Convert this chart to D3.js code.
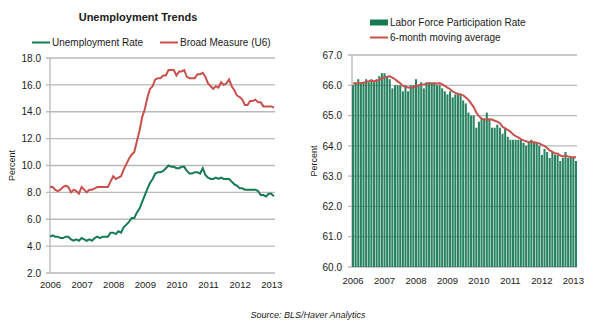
<!DOCTYPE html>
<html>
<head>
<meta charset="utf-8">
<script src="https://cdn.jsdelivr.net/npm/d3@7"></script>
<style>
  body { margin: 0; background: #fff; }
  svg { display: block; font-family: "Liberation Sans", Arial, sans-serif; }
  .tick text { fill: #1a1a1a; }
</style>
</head>
<body>
<div id="chart"></div>
<script>
const width = 600;
const height = 331;

// monthly values, Jan 2006 - Feb 2013
const unemploymentRate = [
  4.7, 4.8, 4.7, 4.7, 4.6, 4.6, 4.7, 4.7, 4.5, 4.4, 4.5, 4.4,
  4.6, 4.5, 4.4, 4.5, 4.4, 4.6, 4.7, 4.6, 4.7, 4.7, 4.7, 5.0,
  5.0, 4.9, 5.1, 5.0, 5.4, 5.6, 5.8, 6.1, 6.1, 6.5, 6.8, 7.3,
  7.8, 8.3, 8.7, 9.0, 9.4, 9.5, 9.5, 9.6, 9.8, 10.0, 9.9, 9.9,
  9.8, 9.8, 9.9, 9.9, 9.6, 9.4, 9.4, 9.5, 9.5, 9.4, 9.8, 9.3,
  9.1, 9.0, 9.0, 9.1, 9.0, 9.1, 9.0, 9.0, 9.0, 8.8, 8.6, 8.5,
  8.3, 8.3, 8.2, 8.2, 8.2, 8.2, 8.2, 8.1, 7.8, 7.8, 7.7, 7.9,
  7.9, 7.7
];
const broadMeasure = [
  8.4, 8.4, 8.2, 8.1, 8.2, 8.4, 8.5, 8.4, 8.0, 8.2, 8.1, 7.9,
  8.4, 8.2, 8.0, 8.2, 8.2, 8.3, 8.4, 8.4, 8.4, 8.4, 8.4, 8.8,
  9.2, 9.0, 9.1, 9.2, 9.7, 10.1, 10.5, 10.8, 11.0, 11.8, 12.6, 13.6,
  14.2, 15.1, 15.7, 15.9, 16.4, 16.5, 16.5, 16.7, 16.7, 17.1, 17.1, 17.1,
  16.7, 17.0, 17.0, 17.1, 16.6, 16.5, 16.5, 16.5, 16.8, 16.8, 16.9, 16.6,
  16.1, 15.9, 15.7, 15.9, 15.8, 16.2, 16.0, 16.1, 16.4, 15.9, 15.6, 15.2,
  15.1, 14.9, 14.5, 14.5, 14.8, 14.8, 14.9, 14.7, 14.7, 14.4, 14.4, 14.4,
  14.4, 14.3
];
const participationRate = [
  66.0, 66.1, 66.2, 66.1, 66.1, 66.2, 66.1, 66.2, 66.1, 66.2, 66.3, 66.4,
  66.4, 66.3, 66.2, 65.9, 66.0, 66.0, 66.0, 65.8, 66.0, 65.8, 66.0, 66.0,
  66.2, 66.0, 66.1, 65.9, 66.1, 66.1, 66.1, 66.1, 66.0, 66.0, 65.9, 65.8,
  65.7, 65.8, 65.6, 65.7, 65.7, 65.7, 65.5, 65.4, 65.1, 65.0, 65.0, 64.6,
  64.8, 64.9, 64.9, 65.1, 64.9, 64.6, 64.6, 64.7, 64.6, 64.4, 64.6, 64.3,
  64.2, 64.2, 64.2, 64.2, 64.2, 64.1, 64.0, 64.1, 64.2, 64.1, 64.1, 64.0,
  63.7, 63.9, 63.8, 63.6, 63.8, 63.7, 63.7, 63.5, 63.6, 63.8, 63.6, 63.6,
  63.6, 63.5
];
const movingAverage = [
  66.07, 66.05, 66.07, 66.07, 66.08, 66.12, 66.13, 66.15, 66.13, 66.15, 66.18, 66.22,
  66.27, 66.28, 66.30, 66.25, 66.20, 66.13, 66.07, 65.98, 65.95, 65.93, 65.93, 65.93,
  65.97, 66.00, 66.02, 66.03, 66.05, 66.07, 66.05, 66.07, 66.05, 66.07, 66.03, 65.98,
  65.92, 65.87, 65.80, 65.75, 65.72, 65.70, 65.67, 65.60, 65.52, 65.40, 65.28, 65.10,
  64.98, 64.90, 64.87, 64.88, 64.87, 64.87, 64.83, 64.80, 64.75, 64.63, 64.58, 64.53,
  64.47, 64.38, 64.32, 64.28, 64.22, 64.18, 64.15, 64.13, 64.13, 64.12, 64.10, 64.08,
  64.03, 64.00, 63.93, 63.85, 63.80, 63.75, 63.75, 63.68, 63.65, 63.68, 63.65, 63.63,
  63.62, 63.62
];
const years = [2006, 2007, 2008, 2009, 2010, 2011, 2012, 2013];
const leftTicks = [2, 4, 6, 8, 10, 12, 14, 16, 18];
const rightTicks = [60, 61, 62, 63, 64, 65, 66, 67];

const green = "#167a52";
const red = "#c8504d";
const gridColor = "#b9b9b9";

const svg = d3
  .select("#chart")
  .append("svg")
  .attr("width", width)
  .attr("height", height);

const months = d3.timeMonth.range(new Date(2006, 0, 1), new Date(2013, 2, 1));

// ---------- left: unemployment trends ----------
const x1 = d3
  .scaleTime()
  .domain([months[0], months[months.length - 1]])
  .range([50, 274]);
const y1 = d3.scaleLinear().domain([2, 18]).range([273, 58]);

const left = svg.append("g");

left
  .selectAll("line.grid")
  .data(leftTicks)
  .enter()
  .append("line")
  .attr("class", "grid")
  .attr("x1", 46)
  .attr("x2", 275)
  .attr("y1", (d) => y1(d))
  .attr("y2", (d) => y1(d))
  .attr("stroke", gridColor)
  .attr("stroke-width", 1.3);

left
  .append("line")
  .attr("x1", 50)
  .attr("x2", 50)
  .attr("y1", y1(18))
  .attr("y2", y1(2))
  .attr("stroke", gridColor)
  .attr("stroke-width", 1.3);

left
  .append("g")
  .attr("transform", "translate(50,0)")
  .call(d3.axisLeft(y1).tickValues(leftTicks).tickFormat(d3.format(".1f")).tickSize(0).tickPadding(9))
  .call((g) => g.select(".domain").remove())
  .selectAll("text")
  .attr("font-size", "10px");

left
  .append("g")
  .attr("transform", "translate(0," + y1(2) + ")")
  .call(
    d3.axisBottom(x1)
      .tickValues(years.map((y) => new Date(y, 0, 1)))
      .tickFormat(d3.timeFormat("%Y"))
      .tickSize(0)
      .tickPadding(8)
  )
  .call((g) => g.select(".domain").remove())
  .selectAll("text")
  .attr("font-size", "9.5px");

const line1 = (vals) =>
  d3
    .line()
    .x((d, i) => x1(months[i]))
    .y((d) => y1(d))(vals);

left
  .append("path")
  .attr("d", line1(broadMeasure))
  .attr("fill", "none")
  .attr("stroke", red)
  .attr("stroke-width", 2);

left
  .append("path")
  .attr("d", line1(unemploymentRate))
  .attr("fill", "none")
  .attr("stroke", green)
  .attr("stroke-width", 2);

left
  .append("text")
  .attr("x", 138)
  .attr("y", 21)
  .attr("text-anchor", "middle")
  .attr("font-size", "11px")
  .attr("font-weight", "bold")
  .attr("fill", "#1a1a1a")
  .text("Unemployment Trends");

left
  .append("text")
  .attr("transform", "translate(15," + y1(10) + ") rotate(-90)")
  .attr("text-anchor", "middle")
  .attr("font-size", "9px")
  .attr("fill", "#1a1a1a")
  .text("Percent");

const leftLegend = [
  { name: "Unemployment Rate", color: green, x: 32 },
  { name: "Broad Measure (U6)", color: red, x: 160 },
];

const ll = left
  .selectAll("g.legend")
  .data(leftLegend)
  .enter()
  .append("g")
  .attr("class", "legend")
  .attr("transform", (d) => "translate(" + d.x + ",42.5)");
ll.append("line")
  .attr("x1", 0)
  .attr("x2", 18)
  .attr("stroke", (d) => d.color)
  .attr("stroke-width", 2);
ll.append("text")
  .attr("x", 20)
  .attr("y", 3.5)
  .attr("font-size", "10px")
  .attr("fill", "#1a1a1a")
  .text((d) => d.name);

// ---------- right: labor force participation ----------
const x2 = d3
  .scaleBand()
  .domain(d3.range(months.length))
  .range([352, 577])
  .paddingInner(0.22)
  .paddingOuter(0);
const y2 = d3.scaleLinear().domain([60, 67]).range([267, 55]);

const right = svg.append("g");

right
  .selectAll("line.grid")
  .data(rightTicks)
  .enter()
  .append("line")
  .attr("class", "grid")
  .attr("x1", 348)
  .attr("x2", 577)
  .attr("y1", (d) => y2(d))
  .attr("y2", (d) => y2(d))
  .attr("stroke", gridColor)
  .attr("stroke-width", 1.3);

right
  .append("line")
  .attr("x1", 352)
  .attr("x2", 352)
  .attr("y1", y2(67))
  .attr("y2", y2(60))
  .attr("stroke", gridColor)
  .attr("stroke-width", 1.3);

right
  .selectAll("rect.bar")
  .data(participationRate)
  .enter()
  .append("rect")
  .attr("class", "bar")
  .attr("x", (d, i) => x2(i))
  .attr("y", (d) => y2(d))
  .attr("width", x2.bandwidth())
  .attr("height", (d) => y2(60) - y2(d))
  .attr("fill", green)
  .attr("fill-opacity", 0.92);

right
  .append("path")
  .attr(
    "d",
    d3
      .line()
      .x((d, i) => x2(i) + x2.bandwidth() / 2)
      .y((d) => y2(d))(movingAverage)
  )
  .attr("fill", "none")
  .attr("stroke", red)
  .attr("stroke-width", 2);

right
  .append("g")
  .attr("transform", "translate(352,0)")
  .call(d3.axisLeft(y2).tickValues(rightTicks).tickFormat(d3.format(".1f")).tickSize(0).tickPadding(10))
  .call((g) => g.select(".domain").remove())
  .selectAll("text")
  .attr("font-size", "10px");

right
  .append("g")
  .attr("transform", "translate(0," + y2(60) + ")")
  .call(
    d3.axisBottom(x2)
      .tickValues(years.map((y, i) => i * 12))
      .tickFormat((d) => 2006 + d / 12)
      .tickSize(0)
      .tickPadding(10)
  )
  .call((g) => g.select(".domain").remove())
  .selectAll("text")
  .attr("font-size", "9.5px");

right
  .append("text")
  .attr("transform", "translate(317," + y2(63.5) + ") rotate(-90)")
  .attr("text-anchor", "middle")
  .attr("font-size", "9px")
  .attr("fill", "#1a1a1a")
  .text("Percent");

right
  .append("rect")
  .attr("x", 370)
  .attr("y", 19.5)
  .attr("width", 18)
  .attr("height", 6)
  .attr("fill", green);
right
  .append("text")
  .attr("x", 390)
  .attr("y", 26)
  .attr("font-size", "10px")
  .attr("fill", "#1a1a1a")
  .text("Labor Force Participation Rate");
right
  .append("line")
  .attr("x1", 370)
  .attr("x2", 388)
  .attr("y1", 37.5)
  .attr("y2", 37.5)
  .attr("stroke", red)
  .attr("stroke-width", 2);
right
  .append("text")
  .attr("x", 390)
  .attr("y", 41)
  .attr("font-size", "10px")
  .attr("fill", "#1a1a1a")
  .text("6-month moving average");

svg
  .append("text")
  .attr("x", 308)
  .attr("y", 318)
  .attr("text-anchor", "middle")
  .attr("font-size", "9px")
  .attr("font-style", "italic")
  .attr("fill", "#1a1a1a")
  .text("Source: BLS/Haver Analytics");
</script>
</body>
</html>
